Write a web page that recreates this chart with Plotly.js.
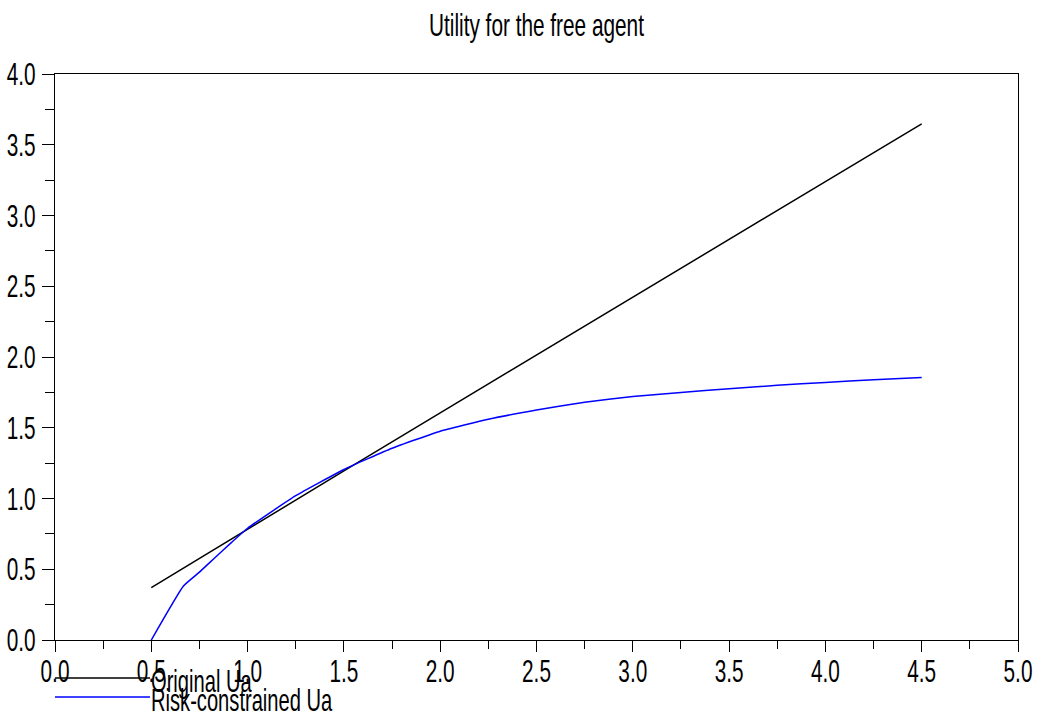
<!DOCTYPE html>
<html>
<head>
<meta charset="utf-8">
<script src="https://cdn.plot.ly/plotly-3.0.1.min.js"></script>
<style>
  html, body { margin: 0; padding: 0; background: #ffffff; }
  #chart { width: 1041px; height: 719px; }
</style>
</head>
<body>
<div id="chart"></div>
<script>
// ---- data ----
const originalX = [0.5, 1.0, 1.5, 2.0, 2.5, 3.0, 3.5, 4.0, 4.5];
const originalUa = [0.37, 0.785, 1.195, 1.605, 2.015, 2.425, 2.83, 3.24, 3.647];

const riskX = [0.5, 0.667, 0.75, 0.833, 0.917, 1.0, 1.25, 1.5, 1.75, 2.0, 2.25, 2.5, 2.75, 3.0, 3.25, 3.5, 3.75, 4.0, 4.25, 4.5];
const riskUa = [0.0, 0.382, 0.48, 0.585, 0.69, 0.79, 1.02, 1.205, 1.355, 1.475, 1.56, 1.625, 1.68, 1.72, 1.75, 1.775, 1.80, 1.82, 1.84, 1.855];

const seriesNames = ["Original Ua", "Risk-constrained Ua"];
const seriesColors = ["#000000", "#0000ff"];
const chartTitle = "Utility for the free agent";

const FONT = "'Liberation Sans', Arial, Helvetica, sans-serif";
const TEXT_SQUEEZE = 0.65;
const XTICK_SHIFT = -8;

const traces = [
  { x: originalX, y: originalUa, type: "scatter", mode: "lines", name: seriesNames[0],
    line: { color: seriesColors[0], width: 1.5 }, showlegend: false },
  { x: riskX, y: riskUa, type: "scatter", mode: "lines", name: seriesNames[1],
    line: { color: seriesColors[1], width: 1.5, shape: "spline", smoothing: 0.4 }, showlegend: false }
];

// legend drawn in paper space (long sample lines as in the reference)
const legendLineRows = [678, 697];
const legendTextRows = [681, 700];
const shapes = [];
const annotations = [];
const H = 719, T = 74, B = 79, L = 55, R = 23, W = 1041;
const ph = H - T - B, pw = W - L - R;
function px2paperX(px) { return (px - L) / pw; }
function px2paperY(py) { return (H - B - py) / ph; }
for (let i = 0; i < seriesNames.length; i++) {
  shapes.push({ type: "line", xref: "paper", yref: "paper",
    x0: px2paperX(55), x1: px2paperX(150), y0: px2paperY(legendLineRows[i]), y1: px2paperY(legendLineRows[i]),
    line: { color: seriesColors[i], width: 1.5 } });
  annotations.push({ xref: "paper", yref: "paper", x: px2paperX(150), y: px2paperY(legendTextRows[i]),
    xanchor: "left", yanchor: "middle", align: "left", text: seriesNames[i], showarrow: false,
    borderpad: 0,
    font: { family: FONT, size: 31, color: "#000000" } });
}

const layout = {
  width: 1041, height: 719,
  margin: { l: L, r: R, t: T, b: B, pad: 0 },
  paper_bgcolor: "#ffffff", plot_bgcolor: "#ffffff",
  showlegend: false,
  title: { text: chartTitle, x: 0.5, xref: "paper", xanchor: "center",
    y: 1 - 25 / 719, yref: "container", yanchor: "middle",
    font: { family: FONT, size: 32, color: "#000000" } },
  xaxis: {
    range: [0, 5], dtick: 0.5, tick0: 0, tickformat: ".1f",
    showgrid: false, zeroline: false,
    showline: true, linecolor: "#000000", linewidth: 1, mirror: true,
    ticks: "outside", ticklen: 11, tickcolor: "#000000", tickwidth: 1,
    minor: { dtick: 0.25, ticks: "outside", ticklen: 8, tickcolor: "#000000", tickwidth: 1 },
    tickfont: { family: FONT, size: 32, color: "#000000" }
  },
  yaxis: {
    range: [0, 4], dtick: 0.5, tick0: 0, tickformat: ".1f",
    showgrid: false, zeroline: false,
    showline: true, linecolor: "#000000", linewidth: 1, mirror: true,
    ticks: "outside", ticklen: 12, tickcolor: "#000000", tickwidth: 1,
    minor: { dtick: 0.25, ticks: "outside", ticklen: 9, tickcolor: "#000000", tickwidth: 1 },
    tickfont: { family: FONT, size: 32, color: "#000000" }
  },
  shapes: shapes,
  annotations: annotations
};

function squeezeTexts(gd) {
  const texts = gd.querySelectorAll("svg text");
  texts.forEach(function (t) {
    const x = parseFloat(t.getAttribute("x") || "0") || 0;
    let prev = t.getAttribute("transform") || "";
    if (t.closest(".xtick")) { prev = "translate(0," + XTICK_SHIFT + ") " + prev; }
    t.setAttribute("transform", (prev + " translate(" + x + ",0) scale(" + TEXT_SQUEEZE + ",1) translate(" + (-x) + ",0)").trim());
  });
}

Plotly.newPlot("chart", traces, layout, { displayModeBar: false, staticPlot: true })
  .then(function (gd) { squeezeTexts(gd); });
</script>
</body>
</html>
